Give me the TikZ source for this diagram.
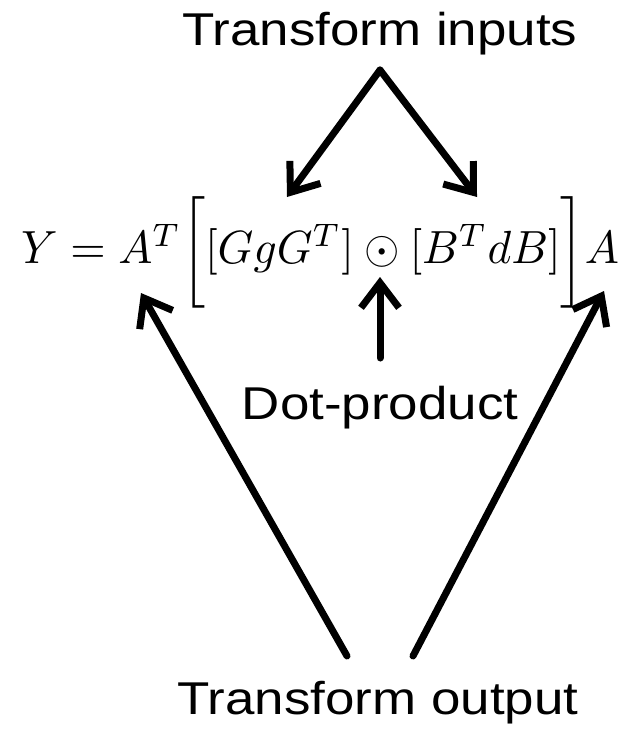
\documentclass[tikz,border=0pt]{standalone}
\usepackage{amsmath,amssymb}
\usepackage{fontspec}
\setmainfont{Liberation Sans}
\usetikzlibrary{arrows.meta}

\begin{document}
\begin{tikzpicture}[x=1pt,y=-1pt,
  pointer/.style={line width=7pt,line cap=round,-{Straight Barb[length=25pt,width=38pt,line width=7pt]}},
  caption/.style={font=\fontsize{46}{50}\selectfont,inner sep=0pt,xscale=1.15}]
\useasboundingbox (0,0) rectangle (625,730);
\node[caption] (tin) at (380,34) {Transform inputs};
\node[inner sep=0pt,xscale=4.55,yscale=4.65] (eq) at (320,252)
  {$Y = A^T\bigg[[GgG^T]\odot[B^T dB]\bigg]A$};
\node[caption] (dot) at (380,408) {Dot-product};
\node[caption] (tout) at (378,703) {Transform output};
\coordinate (apex) at (380,70);
\coordinate (gtip) at (287,197);
\coordinate (btip) at (477,197);
\coordinate (otip) at (380,277);
\coordinate (atip) at (141,293);
\coordinate (ctip) at (604,291);
\coordinate (ltail) at (347,656);
\coordinate (rtail) at (413,656);
\coordinate (dtail) at (380,358);
\draw[pointer] (apex)--(gtip);
\draw[pointer] (apex)--(btip);
\draw[pointer] (dtail)--(otip);
\draw[pointer] (ltail)--(atip);
\draw[pointer] (rtail)--(ctip);
\end{tikzpicture}
\end{document}
